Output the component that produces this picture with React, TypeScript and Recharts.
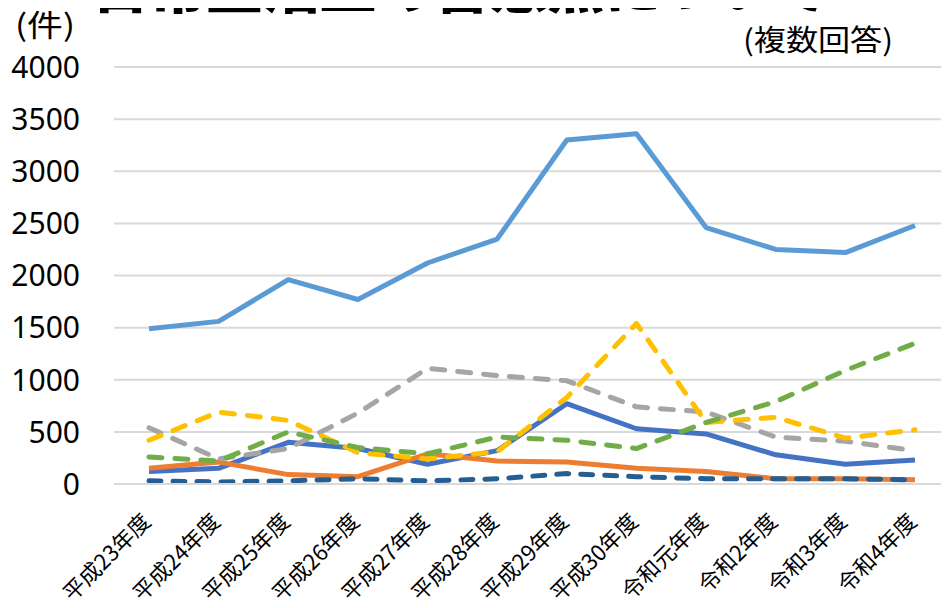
import React from "react";
import { LineChart, Line, XAxis, YAxis, CartesianGrid } from "recharts";

const categories = [
  "平成23年度", "平成24年度", "平成25年度", "平成26年度", "平成27年度", "平成28年度",
  "平成29年度", "平成30年度", "令和元年度", "令和2年度", "令和3年度", "令和4年度",
];
const seriesLightBlue = [1490, 1560, 1960, 1770, 2120, 2350, 3300, 3360, 2460, 2250, 2220, 2480];
const seriesGray = [540, 240, 340, 680, 1110, 1040, 990, 740, 690, 450, 410, 320];
const seriesYellow = [420, 690, 610, 300, 240, 310, 830, 1540, 590, 640, 440, 520];
const seriesGreen = [260, 220, 500, 350, 290, 450, 420, 340, 590, 790, 1090, 1350];
const seriesBlue = [120, 150, 400, 340, 190, 320, 770, 530, 480, 280, 190, 230];
const seriesOrange = [150, 210, 90, 70, 290, 220, 210, 150, 120, 50, 50, 40];
const seriesDarkBlue = [30, 20, 30, 50, 30, 50, 100, 70, 50, 50, 50, 40];
const yTicks = [0, 500, 1000, 1500, 2000, 2500, 3000, 3500, 4000];

const titleText = "日常生活上の留意点について";
const unitText = "(件)";
const noteText = "(複数回答)";

const data = categories.map((c, i) => ({
  name: c,
  lightBlue: seriesLightBlue[i],
  gray: seriesGray[i],
  yellow: seriesYellow[i],
  green: seriesGreen[i],
  blue: seriesBlue[i],
  orange: seriesOrange[i],
  darkBlue: seriesDarkBlue[i],
}));

const JP = "'Noto Sans CJK JP', 'Noto Sans', sans-serif";

const XTick = (props: any) => {
  const { x, y, payload } = props;
  const ax = x + 3;
  const ay = y + 31;
  return (
    <text
      x={ax}
      y={ay}
      transform={`rotate(-45, ${ax}, ${ay})`}
      textAnchor="end"
      fontSize={22}
      fontFamily={JP}
      fill="#000"
    >
      {payload.value}
    </text>
  );
};

const YTick = (props: any) => {
  const { y, payload } = props;
  return (
    <text
      x={80}
      y={y}
      dy="0.36em"
      textAnchor="end"
      fontSize={30}
      fontFamily="'Noto Sans', sans-serif"
      fill="#000"
    >
      {payload.value}
    </text>
  );
};

export default function App() {
  return (
    <div
      style={{
        position: "relative",
        width: 949,
        height: 608,
        margin: -8,
        overflow: "hidden",
        background: "#fff",
      }}
    >
      <div style={{ position: "absolute", left: 0, top: 0 }}>
        <LineChart
          width={960}
          height={608}
          data={data}
          margin={{ top: 67, right: 10, bottom: 94, left: 0 }}
        >
          <CartesianGrid vertical={false} stroke="#D9D9D9" strokeWidth={2} />
          <XAxis
            dataKey="name"
            height={30}
            padding={{ left: 35, right: 35 }}
            axisLine={{ stroke: "#D9D9D9", strokeWidth: 2 }}
            tickLine={false}
            interval={0}
            tick={<XTick />}
          />
          <YAxis
            width={114}
            domain={[0, 4000]}
            ticks={yTicks}
            axisLine={false}
            tickLine={false}
            tick={<YTick />}
          />
          <Line dataKey="blue" stroke="#4472C4" strokeWidth={5} dot={false} isAnimationActive={false} strokeLinejoin="round" />
          <Line dataKey="orange" stroke="#ED7D31" strokeWidth={5} dot={false} isAnimationActive={false} strokeLinejoin="round" />
          <Line dataKey="gray" stroke="#A5A5A5" strokeWidth={5} strokeDasharray="13 13" strokeLinecap="round" dot={false} isAnimationActive={false} strokeLinejoin="round" />
          <Line dataKey="yellow" stroke="#FFC000" strokeWidth={5} strokeDasharray="13 13" strokeLinecap="round" dot={false} isAnimationActive={false} strokeLinejoin="round" />
          <Line dataKey="green" stroke="#70AD47" strokeWidth={5} strokeDasharray="13 13" strokeLinecap="round" dot={false} isAnimationActive={false} strokeLinejoin="round" />
          <Line dataKey="darkBlue" stroke="#255E91" strokeWidth={5} strokeDasharray="12 12" strokeLinecap="round" dot={false} isAnimationActive={false} strokeLinejoin="round" />
          <Line dataKey="lightBlue" stroke="#5B9BD5" strokeWidth={5} dot={false} isAnimationActive={false} strokeLinejoin="round" />
        </LineChart>
      </div>
      <svg
        width={949}
        height={608}
        style={{ position: "absolute", left: 0, top: 0, pointerEvents: "none" }}
      >
        <text x={92} y={8} fontSize={58} fontWeight={900} fontFamily={JP} fill="#000" textLength={738} lengthAdjust="spacingAndGlyphs">
          {titleText}
        </text>
        <text x={15} y={36} fontSize={30} fontFamily={JP} fill="#000" textLength={60} lengthAdjust="spacingAndGlyphs">
          {unitText}
        </text>
        <text x={743} y={51} fontSize={29} fontFamily={JP} fill="#000" textLength={150} lengthAdjust="spacingAndGlyphs">
          {noteText}
        </text>
      </svg>
    </div>
  );
}
